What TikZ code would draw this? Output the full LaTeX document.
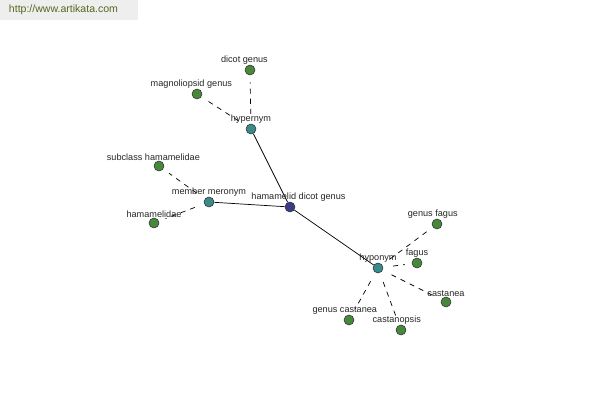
\documentclass[tikz,border=0pt]{standalone}
\usepackage{fontspec}
\setmainfont{Liberation Sans}
\usetikzlibrary{backgrounds}
\definecolor{hubblue}{RGB}{58,60,138}
\definecolor{reltteal}{RGB}{58,138,138}
\definecolor{leafgreen}{RGB}{72,136,58}
\definecolor{urlgreen}{RGB}{84,104,30}
\definecolor{bargray}{RGB}{238,238,238}

\begin{document}
\begin{tikzpicture}[x=0.025cm, y=-0.025cm,
      dot/.style={circle, draw=black!80, line width=0.4pt, inner sep=0pt,
                  minimum size=0.25cm},
      hub/.style={dot, fill=hubblue},
      rel/.style={dot, fill=reltteal},
      leaf/.style={dot, fill=leafgreen},
      lbl/.style={font=\fontsize{6.5}{7}\selectfont, text=black!85, inner sep=1pt,
                  label distance=-1pt},
      link/.style={line width=0.5pt},
      weak/.style={line width=0.5pt, dash pattern=on 3.6pt off 3.6pt,
                   shorten <=7pt, shorten >=5pt}
    ]
    \useasboundingbox (0,0) rectangle (600,400);
    \fill[bargray] (0,0) rectangle (138,20);
    \node[font=\fontsize{7.5}{9}\selectfont, text=urlgreen, anchor=west]
      (url) at (4,10) {http://www.artikata.com};

    % centre word and its relations
    \node[hub, label={[lbl, xshift=6]above:hamamelid dicot genus}] (hdg) at (290,207) {};
    \node[rel, label={[lbl]above:hypernym}] (hyper) at (251,129) {};
    \node[rel, label={[lbl]above:member meronym}] (memmer) at (209,202) {};
    \node[rel, label={[lbl]above:hyponym}] (hypo) at (378,268) {};

    % leaves
    \node[leaf, label={[lbl, xshift=-4]above:dicot genus}] (dicot) at (250,70) {};
    \node[leaf, label={[lbl, xshift=-4]above:magnoliopsid genus}] (magno) at (197,94) {};
    \node[leaf, label={[lbl, xshift=-4]above:subclass hamamelidae}] (subham) at (159,166) {};
    \node[leaf, label={[lbl]above:hamamelidae}] (hamam) at (154,223) {};
    \node[leaf, label={[lbl, xshift=-3]above:genus fagus}] (gfagus) at (437,224) {};
    \node[leaf, label={[lbl]above:fagus}] (fagus) at (417,263) {};
    \node[leaf, label={[lbl]above:castanea}] (castanea) at (446,302) {};
    \node[leaf, label={[lbl, xshift=-3]above:castanopsis}] (castanop) at (401,330) {};
    \node[leaf, label={[lbl, xshift=-3]above:genus castanea}] (gcast) at (349,320) {};

    \begin{pgfonlayer}{background}
      \draw[link] (hdg) -- (hyper);
      \draw[link] (hdg) -- (memmer);
      \draw[link] (hdg) -- (hypo);

      \draw[weak] (hyper) -- (dicot);
      \draw[weak] (hyper) -- (magno);
      \draw[weak] (memmer) -- (subham);
      \draw[weak] (memmer) -- (hamam);
      \draw[weak] (hypo) -- (gfagus);
      \draw[weak] (hypo) -- (fagus);
      \draw[weak] (hypo) -- (castanea);
      \draw[weak] (hypo) -- (castanop);
      \draw[weak] (hypo) -- (gcast);
    \end{pgfonlayer}
  \end{tikzpicture}
\end{document}
